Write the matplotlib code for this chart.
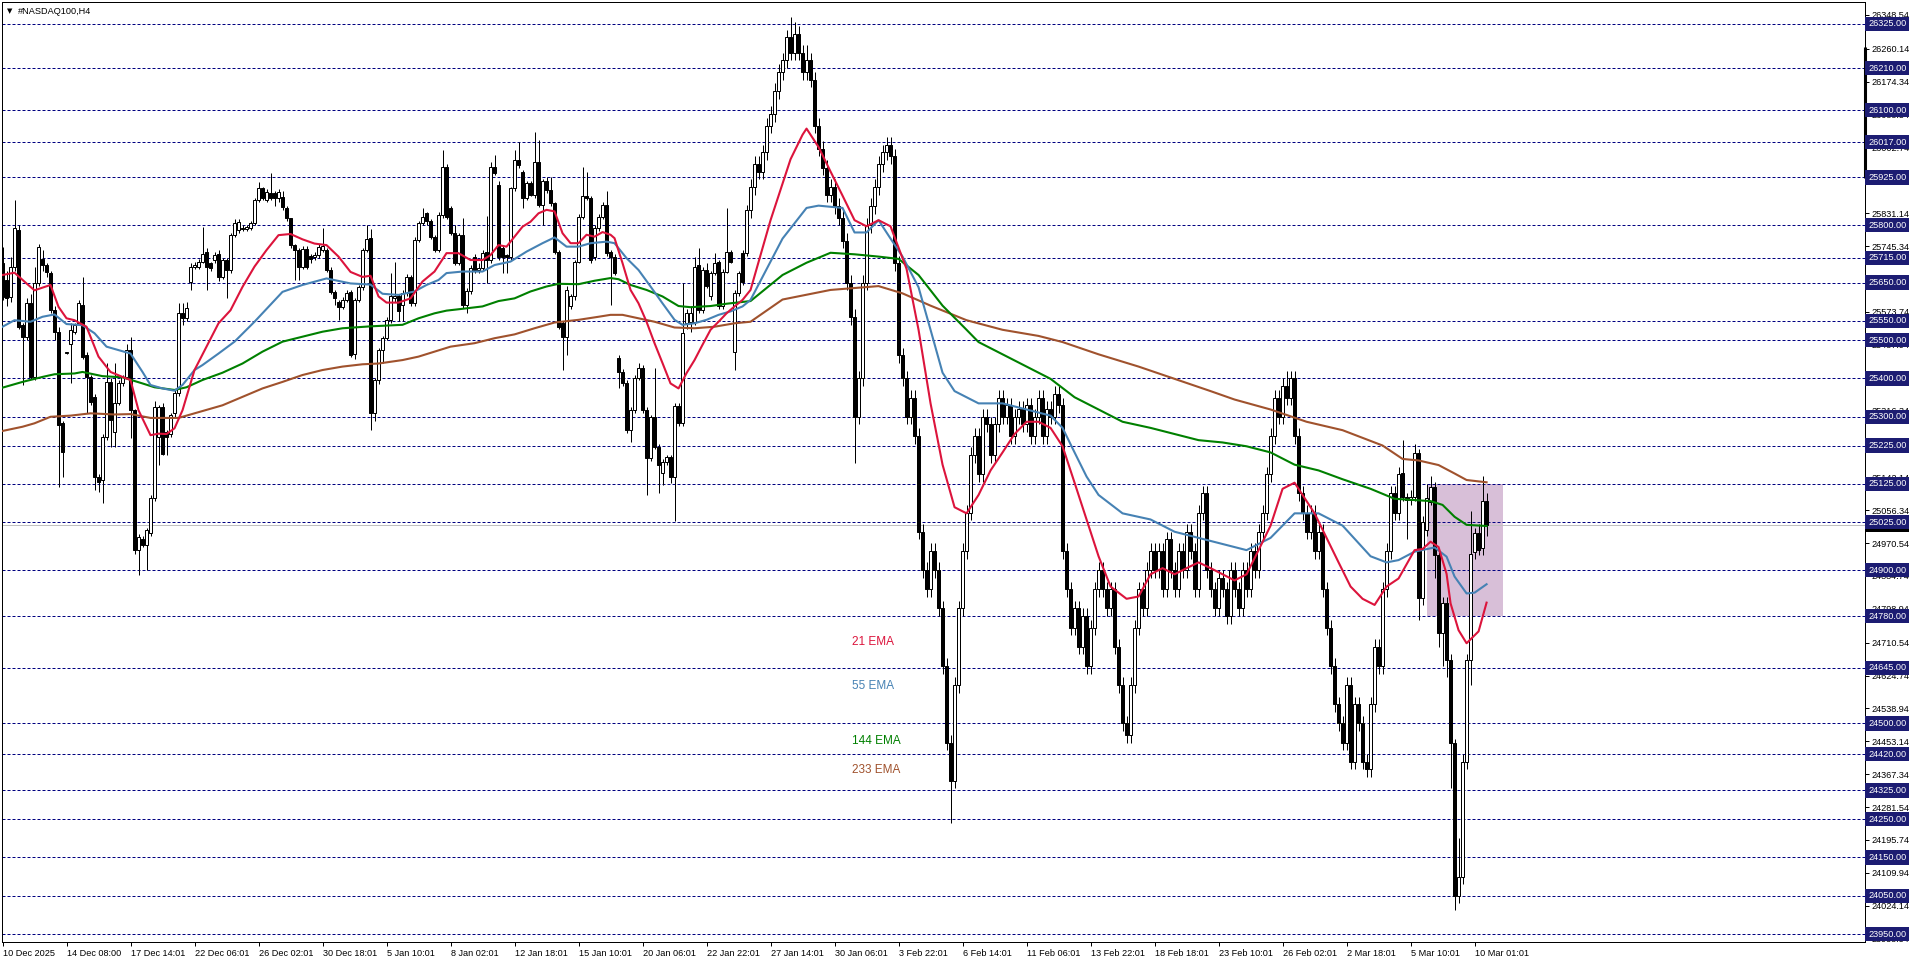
import matplotlib
matplotlib.use('Agg')
import matplotlib.pyplot as plt
import numpy as np
from matplotlib.patches import Rectangle

plt.rcParams['font.family'] = ['Liberation Sans', 'DejaVu Sans']

# H4 candles, bar 0 = 10 Dec 2025
opens = [
    25700,25657,25613,25691,25787,25539,25509,25596,25404,25648,
    25713,25696,25674,25578,25522,25283,25467,25491,25522,25544,
    25591,25461,25404,25352,25143,25135,25248,25391,25260,25335,
    25387,25404,25474,25317,24952,24982,24965,24996,25087,25248,
    25326,25261,25256,25309,25361,25570,25557,25652,25691,25691,
    25705,25731,25700,25709,25725,25665,25709,25683,25774,25787,
    25792,25790,25792,25806,25866,25896,25867,25885,25885,25870,
    25874,25846,25818,25748,25735,25691,25739,25719,25718,25722,
    25735,25735,25683,25626,25600,25587,25605,25626,25465,25605,
    25639,25735,25766,25309,25396,25474,25505,25553,25610,25614,
    25592,25622,25666,25596,25762,25805,25831,25810,25770,25736,
    25827,25953,25844,25779,25701,25775,25592,25627,25718,25683,
    25688,25731,25709,25953,25905,25740,25722,25718,25896,25970,
    25940,25870,25909,25879,25966,25853,25914,25892,25857,25731,
    25544,25509,25588,25614,25705,25822,25875,25870,25718,25792,
    25822,25853,25731,25718,25453,25418,25388,25266,25318,25401,
    25427,25318,25192,25300,25222,25153,25183,25196,25144,25327,
    25283,25544,25548,25548,25696,25579,25683,25614,25675,25705,
    25588,25679,25731,25470,25622,25727,25727,25840,25900,25960,
    25940,25990,26060,26090,26150,26200,26230,26290,26250,26300,
    26250,26200,26230,26180,26060,26000,25950,25880,25900,25850,
    25820,25760,25650,25560,25300,25400,25650,25800,25850,25900,
    25960,25990,26010,25980,25700,25460,25400,25300,25350,25250,
    25000,24900,24850,24950,24900,24800,24650,24450,24350,24600,
    24800,24950,25050,25200,25250,25150,25300,25280,25200,25280,
    25350,25300,25330,25250,25300,25320,25280,25330,25250,25300,
    25350,25250,25320,25300,25360,25330,24950,24850,24750,24800,
    24700,24780,24650,24750,24850,24900,24850,24800,24850,24700,
    24600,24500,24470,24600,24750,24850,24800,24900,24950,24900,
    24950,24850,24980,24900,24850,24950,24900,25000,24950,24850,
    25050,25100,24900,24850,24800,24880,24850,24780,24900,24850,
    24800,24900,24850,24950,24900,25000,25050,25150,25250,25350,
    25300,25380,25350,25400,25250,25100,25050,25000,25050,24950,
    25000,24850,24750,24650,24550,24500,24450,24600,24400,24550,
    24500,24400,24380,24550,24700,24650,24850,24950,25100,25050,
    25152,25091,25083,25091,25205,24826,25004,25078,25118,24939,
    24735,24813,24665,24450,24050,24100,24400,24665,24948,24996,
    24957,25080,
]
highs = [
    25744,25680,25718,25866,25800,25545,25610,25620,25690,25750,
    25735,25700,25680,25590,25535,25290,25470,25544,25545,25605,
    25665,25470,25410,25360,25150,25255,25440,25400,25440,25395,
    25410,25491,25509,25320,24995,24990,25010,25095,25340,25330,
    25335,25265,25310,25370,25596,25596,25600,25700,25705,25712,
    25796,25740,25705,25730,25735,25715,25715,25780,25815,25815,
    25800,25800,25810,25870,25913,25900,25895,25935,25890,25895,
    25890,25850,25820,25752,25740,25745,25745,25725,25730,25750,
    25792,25740,25690,25630,25605,25612,25630,25630,25610,25645,
    25740,25800,25790,25400,25480,25510,25560,25675,25705,25620,
    25630,25672,25670,25770,25810,25845,25835,25815,25775,25835,
    25997,25960,25850,25800,25780,25820,25635,25695,25725,25700,
    25735,25825,25966,25983,25915,25745,25725,25900,25997,26018,
    25945,25915,25915,26044,26022,25920,25925,25925,25860,25735,
    25550,25640,25620,25710,25830,25953,25940,25875,25800,25830,
    25860,25888,25735,25725,25460,25425,25395,25325,25410,25440,
    25435,25325,25305,25427,25230,25190,25200,25200,25335,25335,
    25649,25580,25590,25718,25740,25690,25700,25680,25727,25710,
    25685,25844,25735,25630,25680,25735,25853,25920,25980,25980,
    26010,26080,26110,26170,26220,26250,26310,26343,26330,26320,
    26270,26270,26250,26200,26080,26020,25970,25920,25920,25870,
    25840,25780,25670,25580,25420,25670,25820,25870,25920,25980,
    26010,26030,26030,26000,25720,25480,25420,25370,25370,25270,
    25020,24920,24970,24970,24920,24820,24670,24470,24620,24820,
    24970,25070,25220,25270,25270,25320,25320,25300,25300,25370,
    25370,25350,25350,25320,25340,25340,25350,25350,25320,25370,
    25370,25340,25340,25380,25380,25350,24970,24870,24820,24820,
    24800,24800,24770,24870,24920,24920,24870,24870,24870,24720,
    24620,24520,24620,24770,24870,24870,24920,24970,24970,24970,
    24970,25000,25000,24920,24970,24970,25020,25020,24970,25070,
    25120,25120,24920,24870,24900,24900,24870,24920,24920,24870,
    24920,24920,24970,24970,25020,25070,25170,25270,25370,25370,
    25400,25420,25420,25420,25270,25120,25070,25070,25070,25020,
    25020,24870,24770,24670,24570,24520,24620,24620,24570,24570,
    24520,24420,24570,24720,24720,24870,24970,25120,25120,25170,
    25240,25100,25110,25230,25215,25040,25125,25145,25130,24950,
    24830,24830,24680,24460,24200,24420,24680,25054,25010,25020,
    25145,25100,
]
lows = [
    25605,25590,25600,25680,25530,25383,25500,25398,25395,25640,
    25680,25665,25570,25500,25117,25143,25465,25387,25515,25540,
    25450,25309,25330,25109,25104,25074,25240,25222,25222,25330,
    25380,25400,25244,24943,24887,24960,24900,24990,25080,25174,
    25200,25200,25246,25300,25355,25540,25550,25630,25685,25685,
    25700,25631,25680,25700,25655,25660,25609,25675,25770,25780,
    25785,25785,25788,25800,25860,25865,25860,25865,25850,25860,
    25840,25810,25740,25657,25657,25685,25685,25700,25710,25715,
    25730,25678,25620,25592,25552,25580,25600,25455,25450,25600,
    25630,25730,25265,25290,25385,25440,25500,25545,25600,25550,
    25550,25615,25590,25590,25755,25800,25800,25765,25730,25730,
    25820,25815,25775,25695,25695,25585,25570,25620,25675,25675,
    25680,25650,25700,25930,25710,25675,25675,25710,25890,25950,
    25845,25865,25875,25870,25848,25800,25885,25850,25725,25530,
    25422,25460,25580,25605,25700,25815,25865,25700,25710,25785,
    25815,25720,25592,25670,25374,25380,25257,25235,25310,25395,
    25310,25096,25185,25215,25100,25122,25175,25127,25027,25275,
    25275,25530,25520,25540,25570,25570,25635,25605,25670,25580,
    25580,25675,25700,25422,25615,25645,25720,25820,25880,25920,
    25920,25970,26040,26070,26130,26180,26210,26230,26230,26230,
    26180,26180,26160,26040,25980,25930,25860,25860,25830,25800,
    25740,25630,25540,25180,25280,25380,25630,25780,25830,25880,
    25940,25970,25960,25680,25440,25380,25280,25280,25230,24980,
    24880,24830,24830,24880,24780,24630,24430,24240,24330,24580,
    24780,24930,25030,25180,25130,25130,25260,25180,25180,25260,
    25280,25280,25230,25230,25280,25260,25260,25230,25230,25280,
    25230,25230,25280,25280,25310,24930,24830,24730,24730,24680,
    24680,24630,24630,24730,24830,24830,24780,24780,24680,24580,
    24480,24450,24450,24580,24730,24780,24780,24880,24880,24880,
    24830,24830,24880,24830,24830,24880,24880,24930,24830,24830,
    25030,24880,24830,24780,24780,24830,24760,24760,24830,24780,
    24780,24830,24830,24880,24880,24980,25030,25130,25230,25280,
    25280,25330,25330,25230,25080,25030,24980,24980,24930,24930,
    24830,24730,24630,24530,24480,24430,24430,24380,24380,24480,
    24380,24360,24360,24530,24630,24630,24830,24930,25030,25030,
    25080,24980,25070,25080,24770,24810,24990,25070,24880,24700,
    24650,24620,24330,24013,24030,24080,24380,24600,24930,24940,
    24940,24990,
]
closes = [
    25613,25609,25691,25792,25535,25509,25596,25404,25648,25744,
    25696,25678,25578,25522,25278,25209,25468,25526,25539,25596,
    25457,25404,25339,25143,25130,25248,25391,25291,25335,25387,
    25404,25474,25317,24952,24987,24965,25004,25087,25326,25326,
    25204,25248,25304,25361,25570,25557,25583,25691,25696,25705,
    25726,25691,25687,25722,25665,25709,25683,25774,25806,25809,
    25790,25794,25806,25866,25896,25870,25887,25870,25870,25887,
    25848,25818,25748,25735,25691,25739,25691,25711,25722,25744,
    25745,25683,25626,25609,25587,25606,25622,25461,25605,25639,
    25735,25765,25309,25396,25474,25505,25553,25614,25614,25575,
    25622,25666,25596,25762,25805,25822,25810,25770,25736,25827,
    25953,25822,25779,25701,25775,25592,25627,25688,25683,25688,
    25727,25709,25953,25936,25718,25718,25718,25896,25970,25957,
    25870,25909,25879,25966,25853,25914,25892,25857,25731,25535,
    25509,25631,25614,25705,25822,25875,25870,25709,25792,25822,
    25853,25727,25718,25675,25418,25388,25266,25318,25401,25427,
    25318,25192,25300,25222,25174,25183,25196,25144,25327,25283,
    25518,25570,25570,25692,25579,25683,25640,25675,25702,25588,
    25679,25731,25705,25622,25675,25653,25840,25900,25960,25940,
    25990,26060,26090,26150,26200,26230,26290,26250,26300,26250,
    26200,26230,26180,26060,26000,25950,25880,25900,25850,25820,
    25760,25650,25560,25300,25400,25650,25800,25850,25900,25960,
    25990,26010,25980,25700,25460,25400,25300,25350,25250,25000,
    24900,24850,24950,24900,24800,24650,24450,24350,24600,24800,
    24950,25050,25200,25250,25150,25300,25280,25200,25280,25350,
    25300,25330,25250,25300,25320,25280,25330,25250,25300,25350,
    25250,25320,25300,25360,25330,24950,24850,24750,24800,24700,
    24780,24650,24750,24850,24900,24850,24800,24850,24700,24600,
    24500,24470,24600,24750,24850,24800,24900,24950,24900,24950,
    24850,24980,24900,24850,24950,24900,25000,24950,24850,25050,
    25100,24900,24850,24800,24880,24850,24780,24900,24850,24800,
    24900,24850,24950,24900,25000,25050,25150,25250,25350,25300,
    25380,25350,25400,25250,25100,25050,25000,25050,24950,25000,
    24850,24750,24650,24550,24500,24450,24600,24400,24550,24500,
    24400,24380,24550,24700,24650,24850,24950,25100,25050,25150,
    25091,25083,25091,25205,24826,25026,25087,25118,24939,24735,
    24813,24665,24450,24050,24100,24400,24665,24943,24996,24952,
    25080,25018,
]

# moving averages (bar index, price)
ema21_bar = [0,3,6,8,12,14,16,18,21,24,27,30,32,34,36,37,39,41,43,45,48,51,54,57,60,63,66,69,72,75,
             78,81,84,87,90,92,94,96,99,102,105,108,111,114,117,120,122,124,126,128,130,132,134,136,138,
             140,142,144,146,148,150,152,153,155,157,159,161,163,165,167,169,171,173,175,177,179,181,183,
             185,187,192,197,200,201,204,207,210,213,216,219,222,226,229,232,235,238,241,244,247,250,253,
             256,259,262,265,268,271,274,277,281,284,287,290,293,296,299,302,305,308,311,314,317,320,323,
             325,328,331,334,337,340,343,346,349,353,355,357,359,361,362,364,366,369,371]
ema21_val = [25670,25676,25648,25630,25644,25587,25557,25552,25535,25457,25417,25404,25396,25317,25274,
             25252,25256,25255,25270,25317,25422,25483,25544,25578,25639,25692,25735,25774,25777,25763,
             25752,25748,25718,25678,25665,25668,25614,25598,25598,25609,25653,25679,25727,25727,25709,
             25709,25722,25748,25744,25770,25796,25809,25831,25840,25836,25779,25753,25753,25775,25770,
             25782,25775,25766,25701,25631,25596,25548,25492,25440,25387,25374,25414,25448,25488,25527,
             25548,25570,25588,25605,25631,25813,25972,26036,26052,26004,25940,25877,25813,25797,25813,
             25797,25686,25527,25335,25175,25064,25048,25096,25160,25207,25255,25287,25287,25271,25223,
             25128,25032,24936,24857,24825,24831,24889,24905,24889,24905,24920,24905,24889,24873,24889,
             24952,25016,25112,25128,25096,25048,24984,24920,24857,24825,24809,24857,24878,24952,24955,
             24974,24960,24890,24813,24743,24709,24740,24815]
ema55_bar = [0,3,7,10,13,16,20,23,26,29,32,35,37,40,43,45,48,50,54,58,63,70,75,81,87,92,95,99,103,106,
             109,111,115,120,123,127,131,135,138,141,144,147,151,153,156,159,162,165,168,170,173,176,179,
             182,185,187,195,201,204,210,213,216,219,222,225,229,232,235,238,241,244,250,256,262,265,268,
             271,274,280,287,293,299,305,311,317,323,329,335,342,346,349,353,358,361,363,366,368,371]
ema55_val = [25535,25552,25548,25561,25567,25542,25539,25518,25483,25474,25465,25417,25383,25374,25368,
             25383,25422,25435,25465,25496,25548,25626,25644,25661,25648,25645,25621,25618,25627,25644,
             25657,25675,25679,25679,25696,25705,25731,25753,25768,25744,25744,25753,25757,25753,25714,
             25683,25640,25596,25553,25540,25544,25553,25566,25575,25588,25605,25765,25845,25851,25845,
             25781,25781,25813,25765,25718,25638,25527,25415,25367,25351,25335,25335,25319,25303,25271,
             25207,25144,25096,25048,25032,25000,24984,24968,24952,24984,25048,25048,25016,24936,24920,
             24926,24948,24959,24935,24883,24839,24841,24863]
ema144_bar = [0,5,10,13,18,20,25,30,35,38,43,46,50,55,60,65,70,75,80,85,92,100,104,108,111,116,120,124,
              128,132,136,139,144,148,152,154,157,161,165,169,172,177,181,187,195,201,207,213,219,224,229,
              235,241,244,250,256,262,268,274,280,287,293,299,305,311,317,323,329,335,342,348,357,360,363,
              366,371]
ema144_val = [25376,25391,25404,25411,25413,25417,25406,25403,25387,25377,25370,25377,25396,25415,25439,
              25470,25496,25509,25522,25531,25536,25540,25557,25570,25577,25583,25588,25602,25609,25627,
              25640,25647,25646,25655,25662,25659,25644,25631,25614,25589,25586,25589,25595,25602,25670,
              25702,25728,25724,25718,25712,25670,25590,25527,25495,25463,25431,25399,25351,25319,25287,
              25271,25255,25239,25233,25223,25207,25175,25160,25137,25112,25086,25080,25070,25039,25018,
              25015]
ema233_bar = [0,5,8,12,17,22,28,32,37,44,50,55,60,65,70,75,80,85,90,94,100,104,108,112,118,123,128,133,
              138,144,149,152,155,159,163,168,173,178,183,187,195,207,219,225,232,241,250,259,265,274,284,
              293,302,308,317,326,335,345,350,354,359,363,366,371]
ema233_val = [25263,25274,25283,25300,25303,25309,25306,25307,25297,25297,25315,25330,25352,25374,25391,
              25409,25422,25431,25437,25439,25448,25457,25470,25483,25492,25505,25515,25531,25546,25553,
              25561,25566,25566,25557,25548,25533,25531,25535,25544,25548,25606,25631,25641,25622,25590,
              25552,25527,25511,25495,25463,25431,25399,25367,25345,25319,25287,25265,25225,25190,25186,
              25174,25152,25135,25129]

level_prices = [26325, 26210, 26100, 26017, 25925, 25800, 25715, 25650, 25550, 25500, 25400, 25300,
                25225, 25125, 25025, 24900, 24780, 24645, 24500, 24420, 24325, 24250, 24150, 24050, 23950]
scale_ticks = [26348.54, 26260.14, 26174.34, 26088.54, 26002.74, 25916.94, 25831.14, 25745.34, 25659.54,
               25573.74, 25487.94, 25402.14, 25316.34, 25230.54, 25142.14, 25056.34, 24970.54, 24884.74,
               24798.94, 24710.54, 24624.74, 24538.94, 24453.14, 24367.34, 24281.54, 24195.74, 24109.94,
               24024.14, 23938.34]
time_labels = ['10 Dec 2025', '14 Dec 08:00', '17 Dec 14:01', '22 Dec 06:01', '26 Dec 02:01', '30 Dec 18:01',
               '5 Jan 10:01', '8 Jan 02:01', '12 Jan 18:01', '15 Jan 10:01', '20 Jan 06:01', '22 Jan 22:01',
               '27 Jan 14:01', '30 Jan 06:01', '3 Feb 22:01', '6 Feb 14:01', '11 Feb 06:01', '13 Feb 22:01',
               '18 Feb 18:01', '23 Feb 10:01', '26 Feb 02:01', '2 Mar 18:01', '5 Mar 10:01', '10 Mar 01:01']
bars_per_label = 16
last_price = 25018
zone_bars = (356.1, 375.1)
zone_prices = (24780, 25125)
ema_labels = [('21 EMA', 24713, '#DC143C'), ('55 EMA', 24597, '#4682B4'),
              ('144 EMA', 24454, '#008000'), ('233 EMA', 24378, '#A0522D')]

W, H = 1916, 963
fig = plt.figure(figsize=(W / 100, H / 100), dpi=100)
ax = fig.add_axes([2 / W, 21 / H, 1863 / W, 940 / H])
ax.set_xlim(-0.125, 465.6)
ax.set_ylim(23929.4, 26382.4)
px = 0.72

for p in level_prices:
    ax.axhline(p, color='#000080', lw=px, ls=(0, (3, 2)), zorder=1)
ax.axhline(last_price, color='#c0c0c0', lw=px, zorder=1.5)

ax.add_patch(Rectangle((zone_bars[0], zone_prices[0]), zone_bars[1] - zone_bars[0],
                       zone_prices[1] - zone_prices[0], facecolor='#d8bfd8', edgecolor='none', zorder=0.5))

o = np.array(opens)
h = np.array(highs)
l = np.array(lows)
c = np.array(closes)
x = np.arange(len(c))
ax.vlines(x, l, h, color='black', lw=px, zorder=3)
up = c >= o
lo = np.minimum(o, c)
bh = np.maximum(np.abs(c - o), 2)
ax.bar(x[up], bh[up], bottom=lo[up], width=0.55, facecolor='white', edgecolor='black', lw=px, zorder=4)
ax.bar(x[~up], bh[~up], bottom=lo[~up], width=0.55, facecolor='black', edgecolor='black', lw=px, zorder=4)

ax.plot(ema233_bar, ema233_val, color='#A0522D', lw=1.5, zorder=5)
ax.plot(ema144_bar, ema144_val, color='#008000', lw=1.5, zorder=5)
ax.plot(ema55_bar, ema55_val, color='#4682B4', lw=1.5, zorder=5)
ax.plot(ema21_bar, ema21_val, color='#DC143C', lw=1.5, zorder=5)

for txt, p, col in ema_labels:
    ax.text(212.4, p, txt, color=col, fontsize=8.5, va='center', ha='left', zorder=6)

# price scale
ax.yaxis.tick_right()
ax.set_yticks(scale_ticks)
ax.set_yticklabels(['%.2f' % v for v in scale_ticks])
ax.tick_params(axis='y', length=3, width=px, pad=2, labelsize=6.6, colors='black')
ax.set_xticks([bars_per_label * k for k in range(len(time_labels))])
ax.set_xticklabels(time_labels, ha='left')
ax.tick_params(axis='x', length=3, width=px, pad=2, labelsize=6.6)
for s in ax.spines.values():
    s.set_linewidth(px)

trans = ax.get_yaxis_transform()
ax.annotate('%.2f' % last_price, (1.0, last_price), xycoords=trans, xytext=(2.2, 0), textcoords='offset points',
            color='white', fontsize=6.6, va='center', ha='left', zorder=9, annotation_clip=False,
            bbox=dict(boxstyle='square,pad=0.3', fc='black', ec='black', lw=0))
for p in level_prices:
    ax.annotate('%.2f' % p, (1.0, p), xycoords=trans, xytext=(2.2, 0), textcoords='offset points',
                color='white', fontsize=6.6, va='center', ha='left', zorder=10, annotation_clip=False,
                bbox=dict(boxstyle='square,pad=0.3', fc='#1c1c72', ec='#1c1c72', lw=0))
ax.plot([465.6, 465.6], [25922, 26266], color='black', lw=2.2, solid_capstyle='butt', clip_on=False, zorder=8)

fig.text(7 / W, 1 - 11 / H, '\u25bc', fontsize=5, va='center', ha='left', family='DejaVu Sans')
fig.text(18 / W, 1 - 11 / H, '#NASDAQ100,H4', fontsize=6.6, va='center', ha='left')

fig.savefig('out.png', dpi=100, facecolor='white')
